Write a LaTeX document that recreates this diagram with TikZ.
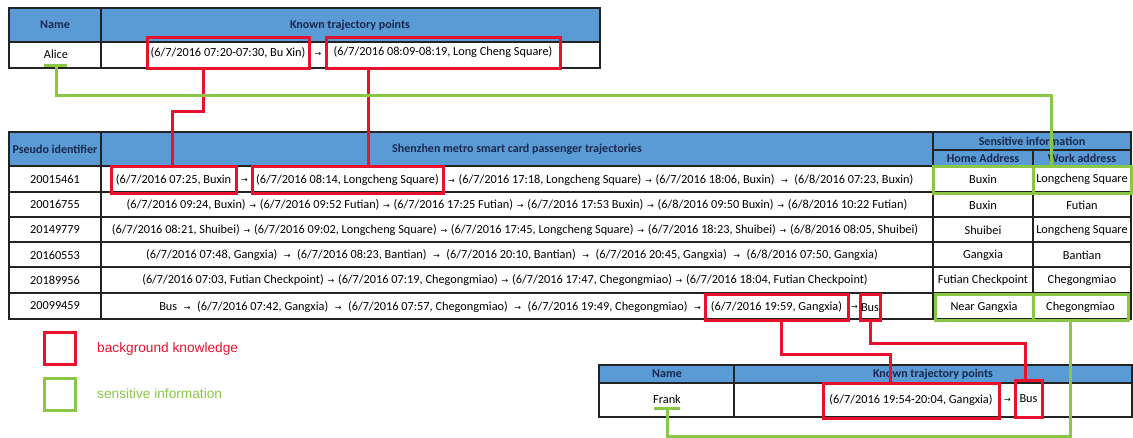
\documentclass[tikz,border=0pt]{standalone}
\usepackage{fontspec}
\setmainfont{Carlito}
\newfontfamily\legendfont{Liberation Sans}
\newfontfamily\arrowfont{DejaVu Sans}
\usetikzlibrary{positioning}

\definecolor{hdrblue}{RGB}{91,155,213}
\definecolor{hdrtext}{RGB}{24,40,78}
\definecolor{bkred}{RGB}{232,18,44}
\definecolor{sigreen}{RGB}{139,199,70}
\definecolor{gridline}{RGB}{35,35,35}

\newcommand{\arr}{\hspace{1pt}{\arrowfont\fontsize{8}{8}\selectfont →}\hspace{1pt}}

\begin{document}
\begin{tikzpicture}[x=1pt,y=-1pt]
		\tikzstyle{every node}=[font=\fontsize{12.3pt}{14pt}\selectfont, inner sep=0pt]
		\tikzstyle{hdr}=[font=\fontsize{12pt}{14pt}\selectfont\bfseries, text=hdrtext]
		\tikzstyle{bkbox}=[draw=bkred, line width=3pt]
		\tikzstyle{sibox}=[draw=sigreen, line width=3pt]
		\tikzstyle{bkline}=[draw=bkred, line width=3pt]
		\tikzstyle{siline}=[draw=sigreen, line width=3pt]
		\tikzstyle{grid}=[draw=gridline, line width=1.3pt]
		
		\useasboundingbox (0,0) rectangle (1133,437);
		
		% known points of Alice
		\fill[hdrblue] (9,8) rectangle (600,42);
		\draw[grid] (9,42) -- (600,42);
		\draw[grid] (101,8) -- (101,68);
		\draw[grid] (9,8) rectangle (600,68);
		\node[hdr] (aname) at (55,25) {Name};
		\node[hdr] (aknown) at (350,25) {Known trajectory points};
		\node (alice) at (56,54) {Alice};
		\node[bkbox, minimum width=162pt, minimum height=31pt] (ka) at (228,52.5) {(6/7/2016 07:20-07:30, Bu Xin)};
		\node[bkbox, minimum width=234pt, minimum height=31pt] (kb) at (443,52.5) {(6/7/2016 08:09-08:19, Long Cheng Square)};
		\node (karr) at (317.5,54) {\arr};
		
		% metro card table
		\fill[hdrblue] (9,132) rectangle (1131,166);
		\draw[grid] (933,150) -- (1131,150);
		\foreach \y in {166,192,217,242,267,293}
			\draw[grid] (9,\y) -- (1131,\y);
		\draw[grid] (101,132) -- (101,319);
		\draw[grid] (933,132) -- (933,319);
		\draw[grid] (1033,150) -- (1033,319);
		\draw[grid] (9,132) rectangle (1131,319);
		\node[hdr] (hid) at (55,149) {Pseudo identifier};
		\node[hdr] (htraj) at (517,149) {Shenzhen metro smart card passenger trajectories};
		\node[hdr] (hsens) at (1032,141.5) {Sensitive information};
		\node[hdr] (hhome) at (983,158.5) {Home Address};
		\node[hdr] (hwork) at (1082,158.5) {Work address};
		
		\foreach \id [count=\i] in {20015461,20016755,20149779,20160553,20189956,20099459}
			\node (id\i) at (55,{154+25.3*\i}) {\id};
		
		% row 1
		\node[bkbox, minimum width=125pt, minimum height=27.5pt] (ta) at (173.5,179.75) {(6/7/2016 07:25, Buxin};
		\node (tarr) at (244,180) {\arr};
		\node[bkbox, minimum width=191pt, minimum height=27.5pt] (tb) at (347.5,179.75) {(6/7/2016 08:14, Longcheng Square)};
		\node[anchor=west] (trest) at (447,180) {\arr{} (6/7/2016 17:18, Longcheng Square) \arr{} (6/7/2016 18:06, Buxin) ~\arr~ (6/8/2016 07:23, Buxin)};
		\node[sibox, minimum width=100pt, minimum height=27pt] (home1) at (983,179.5) {Buxin};
		\node[sibox, minimum width=98pt, minimum height=27pt] (work1) at (1082,179.5) {Longcheng Square};
		
		% rows 2 to 5
		\node (traj2) at (517,205) {(6/7/2016 09:24, Buxin) \arr{} (6/7/2016 09:52 Futian) \arr{} (6/7/2016 17:25 Futian) \arr{} (6/7/2016 17:53 Buxin) \arr{} (6/8/2016 09:50 Buxin) \arr{} (6/8/2016 10:22 Futian)};
		\node (traj3) at (515,230) {(6/7/2016 08:21, Shuibei) \arr{} (6/7/2016 09:02, Longcheng Square) \arr{} (6/7/2016 17:45, Longcheng Square) \arr{} (6/7/2016 18:23, Shuibei) \arr{} (6/8/2016 08:05, Shuibei)};
		\node (traj4) at (512,255) {(6/7/2016 07:48, Gangxia) ~\arr~ (6/7/2016 08:23, Bantian) ~\arr~ (6/7/2016 20:10, Bantian) ~\arr~ (6/7/2016 20:45, Gangxia) ~\arr~ (6/8/2016 07:50, Gangxia)};
		\node (traj5) at (505,280.5) {(6/7/2016 07:03, Futian Checkpoint) \arr{} (6/7/2016 07:19, Chegongmiao) \arr{} (6/7/2016 17:47, Chegongmiao) \arr{} (6/7/2016 18:04, Futian Checkpoint)};
		\node (home2) at (983,205) {Buxin};
		\node (work2) at (1082,205) {Futian};
		\node (home3) at (983,230) {Shuibei};
		\node (work3) at (1082,230) {Longcheng Square};
		\node (home4) at (983,255) {Gangxia};
		\node (work4) at (1082,255) {Bantian};
		\node (home5) at (983,280.5) {Futian Checkpoint};
		\node (work5) at (1082,280.5) {Chegongmiao};
		
		% row 6
		\node[bkbox, minimum width=143pt, minimum height=26.5pt] (tc) at (776.5,307.25) {(6/7/2016 19:59, Gangxia)};
		\node[anchor=east] (tfirst) at (701,307.5) {Bus ~\arr~ (6/7/2016 07:42, Gangxia) ~\arr~ (6/7/2016 07:57, Chegongmiao) ~\arr~ (6/7/2016 19:49, Chegongmiao) ~\arr};
		\node (tcarr) at (854,307.5) {\arr};
		\node[bkbox, minimum width=20pt, minimum height=26.5pt] (td) at (870,307.25) {Bus};
		\node[sibox, minimum width=98pt, minimum height=26pt] (home6) at (984,307) {Near Gangxia};
		\node[sibox, minimum width=95pt, minimum height=26pt] (work6) at (1080.5,307) {Chegongmiao};
		
		% known points of Frank
		\fill[hdrblue] (599,365) rectangle (1132,383);
		\draw[grid] (599,383) -- (1132,383);
		\draw[grid] (734,365) -- (734,417);
		\draw[grid] (599,365) rectangle (1132,417);
		\node[hdr] (fname) at (667,374) {Name};
		\node[hdr] (fknown) at (933,374) {Known trajectory points};
		\node (frank) at (667,399) {Frank};
		\node[bkbox, minimum width=176pt, minimum height=35pt] (kc) at (911,400.5) {(6/7/2016 19:54-20:04, Gangxia)};
		\node (kcarr) at (1007,400) {\arr};
		\node[bkbox, minimum width=27pt, minimum height=37pt] (kd) at (1028.5,398.5) {Bus};
		
		% connectors
		\coordinate (aliceul) at (56,65);
		\coordinate (frankul) at (667,408);
		\draw[siline] (44,65) -- (67,65);
		\draw[siline] (654,408) -- (680,408);
		\draw[bkline] ([xshift=-25pt]ka.south) -- ++(0,42) -| ([xshift=-1.5pt]ta.north);
		\draw[bkline] ([xshift=-75pt]kb.south) -- ([xshift=-75pt]kb.south |- tb.north);
		\draw[siline] (aliceul) -- (56,95) -| ([xshift=-31pt]work1.north);
		\draw[bkline] ([xshift=4.5pt]tc.south) -- ++(0,32) -| ([xshift=-21pt]kc.north);
		\draw[bkline] (td.south) -- ++(0,21) -| ([xshift=-3.5pt]kd.north);
		\draw[siline] ([xshift=-10.5pt]work6.south) -- ++(0,115) -| (frankul);
		
		% legend
		\draw[bkbox] (44,332) rectangle (75,364);
		\draw[sibox] (44,378) rectangle (75,410);
		\node[anchor=west, text=bkred, font=\legendfont\fontsize{13.7pt}{15pt}\selectfont] (lbk) at (97,349) {background knowledge};
		\node[anchor=west, text=sigreen, font=\legendfont\fontsize{13.7pt}{15pt}\selectfont] (lsi) at (97,394) {sensitive information};
		
	\end{tikzpicture}
\end{document}
